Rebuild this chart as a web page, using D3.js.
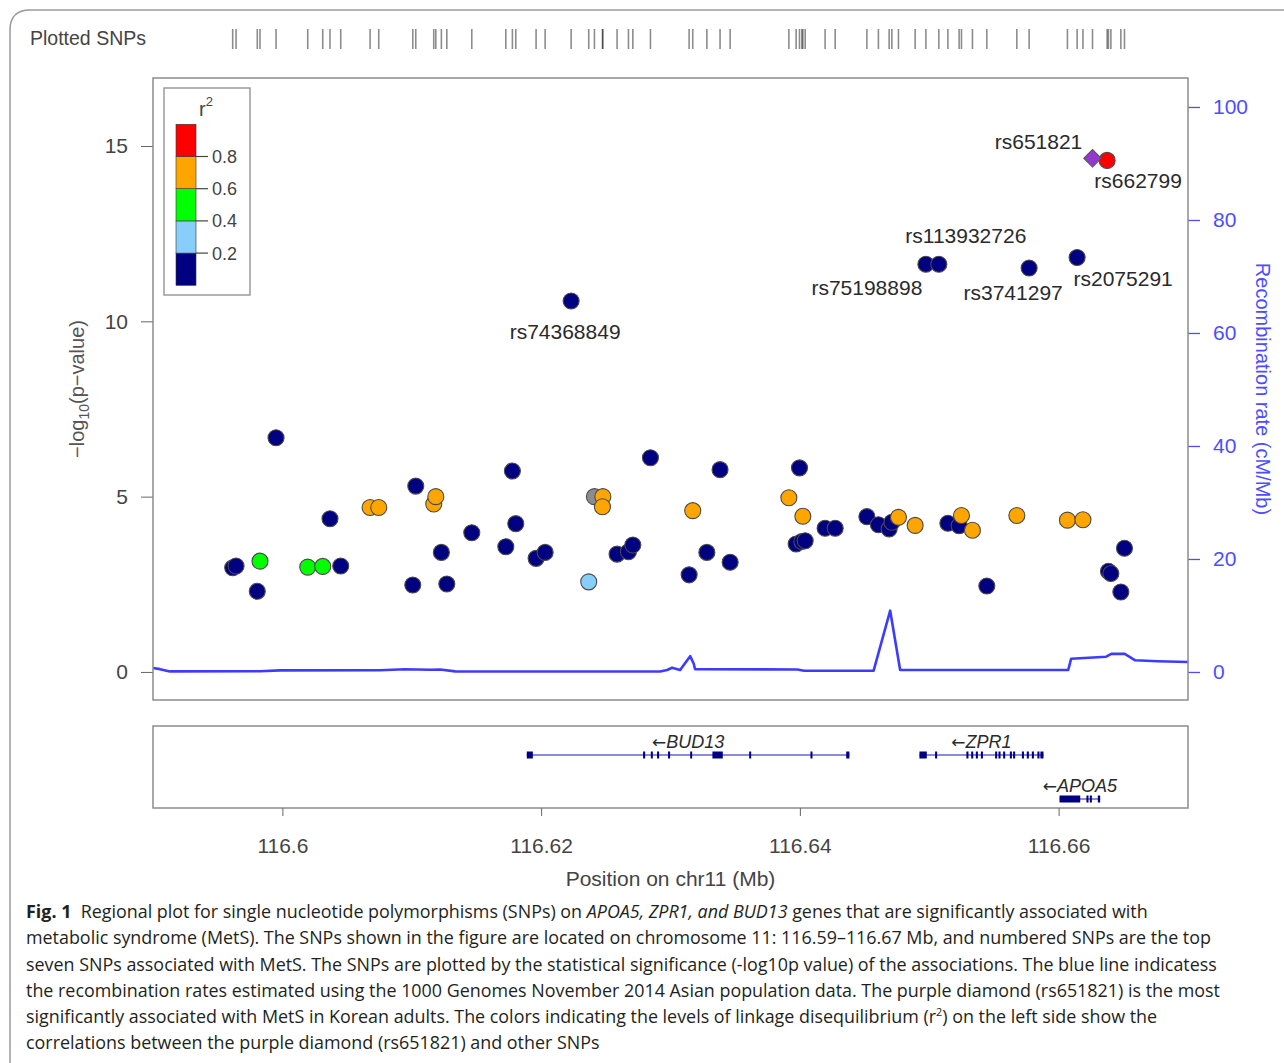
<!DOCTYPE html>
<html>
<head>
<meta charset="utf-8">
<script src="https://cdn.jsdelivr.net/npm/d3@7"></script>
<style>
body { margin: 0; background: #fff; }
svg { display: block; font-family: "Liberation Sans", Arial, sans-serif; }
</style>
</head>
<body>
<svg id="chart" width="1284" height="1063"></svg>
<script>
// SNP positions (Mb on chr11), -log10(p) and r2 with the lead SNP (null = no LD info)
var snpPos = [116.59616, 116.59642, 116.59806, 116.59827, 116.59951, 116.60196, 116.60312, 116.60368, 116.60451, 116.60678,
  116.60745, 116.61008, 116.61031, 116.61170, 116.61186, 116.61229, 116.61271, 116.61464, 116.61727, 116.61778,
  116.61804, 116.61961, 116.62031, 116.62232, 116.62368, 116.62412, 116.62477, 116.62474, 116.62587, 116.62675,
  116.62709, 116.62845, 116.63144, 116.63172, 116.63281, 116.63383, 116.63461, 116.63915, 116.63971, 116.63997,
  116.64015, 116.64041, 116.64023, 116.64195, 116.64273, 116.64518, 116.64607, 116.64690, 116.64711, 116.64762,
  116.64891, 116.64974, 116.65074, 116.65144, 116.65231, 116.65249, 116.65334, 116.65445, 116.65677, 116.65772,
  116.66068, 116.66143, 116.66188, 116.66262, 116.66375, 116.66385, 116.66404, 116.66481, 116.66509];
var snpLogP = [2.97, 3.02, 2.30, 3.16, 6.68, 2.99, 3.01, 4.37, 3.02, 4.69,
  4.69, 2.48, 5.30, 4.79, 5.00, 3.41, 2.51, 3.97, 3.57, 5.73,
  4.23, 3.24, 3.41, 10.58, 2.57, 5.00, 5.00, 4.71, 3.36, 3.43,
  3.62, 6.11, 2.77, 4.60, 3.41, 5.77, 3.13, 4.97, 3.65, 5.82,
  3.72, 3.74, 4.44, 4.10, 4.10, 4.43, 4.20, 4.08, 4.27, 4.41,
  4.18, 11.63, 11.63, 4.24, 4.17, 4.46, 4.04, 2.45, 4.46, 11.52,
  4.33, 11.82, 4.34, 14.65, 14.59, 2.87, 2.81, 2.28, 3.53];
var snpR2 = [0.1, 0.1, 0.1, 0.5, 0.1, 0.5, 0.5, 0.1, 0.1, 0.7,
  0.7, 0.1, 0.1, 0.7, 0.7, 0.1, 0.1, 0.1, 0.1, 0.1,
  0.1, 0.1, 0.1, 0.1, 0.3, null, 0.7, 0.7, 0.1, 0.1,
  0.1, 0.1, 0.1, 0.7, 0.1, 0.1, 0.1, 0.7, 0.1, 0.1,
  0.1, 0.1, 0.7, 0.1, 0.1, 0.1, 0.1, 0.1, 0.1, 0.7,
  0.7, 0.1, 0.1, 0.1, 0.1, 0.7, 0.7, 0.1, 0.7, 0.1,
  0.7, 0.1, 0.7, 1, 0.9, 0.1, 0.1, 0.1, 0.1];
// named top SNPs, by index into the arrays above
var topSnpNames = ["rs74368849", "rs75198898", "rs113932726", "rs3741297", "rs2075291", "rs651821", "rs662799"];
var topSnpIndex = [23, 51, 52, 59, 61, 63, 64];
var leadSnp = "rs651821";

// recombination rate (cM/Mb)
var recombPos = [116.5900, 116.59054, 116.59131, 116.59827, 116.59982, 116.60755, 116.60948, 116.61141, 116.61219, 116.61335,
  116.62920, 116.62974, 116.63012, 116.63074, 116.63152, 116.63179, 116.63190, 116.63979, 116.64033, 116.64570,
  116.64698, 116.64775, 116.65927, 116.66074, 116.66097, 116.66368, 116.66407, 116.66511, 116.66592, 116.66763, 116.67002];
var recombRate = [0.7, 0.5, 0.1, 0.12, 0.28, 0.3, 0.48, 0.4, 0.45, 0.1,
  0.08, 0.35, 0.75, 0.35, 2.8, 1.5, 0.48, 0.45, 0.23, 0.23,
  10.85, 0.35, 0.35, 0.35, 2.35, 2.7, 3.2, 3.2, 2.07, 1.9, 1.77];

// genes: name, start, end, exons [start, end]
var geneNames = ["BUD13", "ZPR1", "APOA5"];
var geneStart = [116.61889, 116.64924, 116.66007];
var geneEnd = [116.64383, 116.65883, 116.66321];
var geneRow = [0, 0, 1];
var geneExons = [
  [[116.61889, 116.61936], [116.62788, 116.62804], [116.62848, 116.62863], [116.62896, 116.62912], [116.62981, 116.62997],
   [116.63152, 116.63167], [116.63324, 116.63404], [116.63608, 116.63623], [116.64082, 116.64097], [116.64358, 116.64383]],
  [[116.64924, 116.64981], [116.65045, 116.65061], [116.65287, 116.65303], [116.65324, 116.65340], [116.65360, 116.65376],
   [116.65399, 116.65415], [116.65509, 116.65525], [116.65535, 116.65551], [116.65571, 116.65587], [116.65623, 116.65639],
   [116.65648, 116.65664], [116.65716, 116.65732], [116.65754, 116.65770], [116.65793, 116.65809], [116.65836, 116.65852],
   [116.65859, 116.65883]],
  [[116.66007, 116.66167], [116.66215, 116.66231], [116.66241, 116.66257], [116.66303, 116.66321]]
];

var pTicks = [0, 5, 10, 15];
var recombTicks = [0, 20, 40, 60, 80, 100];
var posTicks = [116.6, 116.62, 116.64, 116.66];
var r2Breaks = [0.2, 0.4, 0.6, 0.8];
var r2Colors = ["#000080", "#87cefa", "#00ff00", "#ffa500", "#ff0000"];

var captionLines = [
  [["b", "Fig. 1"], ["", "  Regional plot for single nucleotide polymorphisms (SNPs) on "], ["i", "APOA5, ZPR1, and BUD13"], ["", " genes that are significantly associated with"]],
  [["", "metabolic syndrome (MetS). The SNPs shown in the figure are located on chromosome 11: 116.59\u2013116.67 Mb, and numbered SNPs are the top"]],
  [["", "seven SNPs associated with MetS. The SNPs are plotted by the statistical significance (-log10p value) of the associations. The blue line indicatess"]],
  [["", "the recombination rates estimated using the 1000 Genomes November 2014 Asian population data. The purple diamond (rs651821) is the most"]],
  [["", "significantly associated with MetS in Korean adults. The colors indicating the levels of linkage disequilibrium (r"], ["sup", "2"], ["", ") on the left side show the"]],
  [["", "correlations between the purple diamond (rs651821) and other SNPs"]]
];

// ---- layout ----
var plotL = 153, plotR = 1188, plotT = 78, plotB = 700;
var geneT = 726, geneB = 808;
var blue = "#4d4dff";

var svg = d3.select("#chart");

var x = d3.scaleLinear().domain([116.59, 116.67]).range([plotL, plotR]);
var y = d3.scaleLinear().domain([-0.8, 16.94]).range([plotB, plotT]);
var yR = d3.scaleLinear().domain([-4.96, 105.13]).range([plotB, plotT]);
var r2Color = d3.scaleThreshold().domain(r2Breaks).range(r2Colors);

// figure frame
svg.append("path")
  .attr("d", "M10,1070 L10,30 Q10,10 30,10 L1290,10")
  .attr("fill", "none").attr("stroke", "#9a9a9a").attr("stroke-width", 1.5);

// plotted SNPs rug
svg.append("text").attr("x", 30).attr("y", 45)
  .attr("font-size", 19.5).attr("fill", "#444").text("Plotted SNPs");
svg.append("g").selectAll("line")
  .data(snpPos).enter().append("line")
  .attr("x1", function (d) { return x(d); }).attr("x2", function (d) { return x(d); })
  .attr("y1", 29).attr("y2", 49)
  .attr("stroke", "#000").attr("stroke-opacity", 0.45).attr("stroke-width", 1.6);

// recombination line
var recomb = recombPos.map(function (p, i) { return { pos: p, rate: recombRate[i] }; });
svg.append("path")
  .datum(recomb)
  .attr("fill", "none").attr("stroke", "#3c3cff").attr("stroke-width", 2.6)
  .attr("stroke-linejoin", "round")
  .attr("d", d3.line().x(function (d) { return x(d.pos); }).y(function (d) { return yR(d.rate); }));

// axes
var axL = svg.append("g").attr("transform", "translate(" + plotL + ",0)")
  .call(d3.axisLeft(y).tickValues(pTicks).tickSize(12).tickPadding(13));
axL.select(".domain").remove();
axL.selectAll("line").attr("stroke", "#666");
axL.selectAll("text").attr("font-size", 21).attr("fill", "#444").attr("font-family", "Liberation Sans, Arial, sans-serif");

var axR = svg.append("g").attr("transform", "translate(" + plotR + ",0)")
  .call(d3.axisRight(yR).tickValues(recombTicks).tickSize(12).tickPadding(13));
axR.select(".domain").remove();
axR.selectAll("line").attr("stroke", blue).attr("stroke-width", 1.3);
axR.selectAll("text").attr("font-size", 21).attr("fill", blue).attr("font-family", "Liberation Sans, Arial, sans-serif");

svg.append("text")
  .attr("transform", "translate(84," + ((plotT + plotB) / 2) + ") rotate(-90)")
  .attr("text-anchor", "middle").attr("font-size", 20).attr("fill", "#555")
  .call(function (t) {
    t.append("tspan").text("\u2212log");
    t.append("tspan").attr("font-size", 14).attr("dy", 5).text("10");
    t.append("tspan").attr("dy", -5).text("(p\u2212value)");
  });

svg.append("text")
  .attr("transform", "translate(1256," + ((plotT + plotB) / 2) + ") rotate(90)")
  .attr("text-anchor", "middle").attr("font-size", 20).attr("fill", blue)
  .text("Recombination rate (cM/Mb)");

// plot border
svg.append("rect").attr("x", plotL).attr("y", plotT)
  .attr("width", plotR - plotL).attr("height", plotB - plotT)
  .attr("fill", "none").attr("stroke", "#8c8c8c").attr("stroke-width", 1.5);

// SNP points
var snps = snpPos.map(function (p, i) {
  var id = topSnpIndex.indexOf(i) >= 0 ? topSnpNames[topSnpIndex.indexOf(i)] : null;
  return { pos: p, logp: snpLogP[i], r2: snpR2[i], id: id };
});
var others = snps.filter(function (d) { return d.id !== leadSnp; });
var lead = snps.filter(function (d) { return d.id === leadSnp; });

svg.append("g").selectAll("circle")
  .data(others).enter().append("circle")
  .attr("cx", function (d) { return x(d.pos); })
  .attr("cy", function (d) { return y(d.logp); })
  .attr("r", 8)
  .attr("fill", function (d) { return d.r2 === null ? "#8c8c8c" : r2Color(d.r2); })
  .attr("stroke", "#4a4a4a").attr("stroke-width", 1.1);

svg.append("g").selectAll("path")
  .data(lead).enter().append("path")
  .attr("transform", function (d) { return "translate(" + x(d.pos) + "," + y(d.logp) + ") rotate(45)"; })
  .attr("d", d3.symbol(d3.symbolSquare, 155))
  .attr("fill", "#9437cf").attr("stroke", "#555").attr("stroke-width", 1);

// SNP labels (offsets from their point)
var labelOffset = {
  rs74368849: [-6, 38], rs75198898: [-59, 31], rs113932726: [27, -21], rs3741297: [-16, 32],
  rs2075291: [46, 28], rs651821: [-54, -9], rs662799: [31, 28]
};
svg.append("g").selectAll("text")
  .data(snps.filter(function (d) { return d.id; })).enter().append("text")
  .attr("x", function (d) { return x(d.pos) + labelOffset[d.id][0]; })
  .attr("y", function (d) { return y(d.logp) + labelOffset[d.id][1]; })
  .attr("text-anchor", "middle").attr("font-size", 21).attr("fill", "#2a2a2a")
  .text(function (d) { return d.id; });

// r2 legend
var leg = svg.append("g");
leg.append("rect").attr("x", 164).attr("y", 88).attr("width", 86).attr("height", 207)
  .attr("fill", "#fff").attr("stroke", "#8c8c8c").attr("stroke-width", 1.3);
var bandY = d3.scaleLinear().domain([1, 0]).range([124.3, 285.3]);
var bands = [0, 0.2, 0.4, 0.6, 0.8];
leg.selectAll("rect.band")
  .data(bands).enter().append("rect").attr("class", "band")
  .attr("x", 176).attr("width", 20)
  .attr("y", function (d) { return bandY(d + 0.2); })
  .attr("height", function (d) { return bandY(d) - bandY(d + 0.2); })
  .attr("fill", function (d) { return r2Color(d + 0.1); })
  .attr("stroke", "#333").attr("stroke-width", 0.6);
leg.selectAll("line.tick")
  .data(r2Breaks).enter().append("line").attr("class", "tick")
  .attr("x1", 196).attr("x2", 208)
  .attr("y1", function (d) { return bandY(d); }).attr("y2", function (d) { return bandY(d); })
  .attr("stroke", "#444").attr("stroke-width", 1.2);
leg.selectAll("text.lab")
  .data(r2Breaks).enter().append("text").attr("class", "lab")
  .attr("x", 212).attr("y", function (d) { return bandY(d); }).attr("dy", "0.36em")
  .attr("font-size", 18).attr("fill", "#444")
  .text(function (d) { return d.toFixed(1); });
leg.append("text").attr("x", 199).attr("y", 116).attr("font-size", 20).attr("fill", "#444")
  .call(function (t) {
    t.append("tspan").text("r");
    t.append("tspan").attr("font-size", 13).attr("dy", -10).text("2");
  });

// gene panel
svg.append("rect").attr("x", plotL).attr("y", geneT)
  .attr("width", plotR - plotL).attr("height", geneB - geneT)
  .attr("fill", "none").attr("stroke", "#8c8c8c").attr("stroke-width", 1.5);

var rowY = [755, 799];
var genes = geneNames.map(function (n, i) {
  return { name: n, start: geneStart[i], end: geneEnd[i], row: geneRow[i], exons: geneExons[i] };
});
var gg = svg.append("g").selectAll("g")
  .data(genes).enter().append("g");
gg.append("line")
  .attr("x1", function (d) { return x(d.start); }).attr("x2", function (d) { return x(d.end); })
  .attr("y1", function (d) { return rowY[d.row]; }).attr("y2", function (d) { return rowY[d.row]; })
  .attr("stroke", "#1a1aa6").attr("stroke-width", 1.2);
gg.each(function (d) {
  d3.select(this).selectAll("rect")
    .data(d.exons).enter().append("rect")
    .attr("x", function (e) { return x(e[0]); })
    .attr("width", function (e) { return Math.max(2, x(e[1]) - x(e[0])); })
    .attr("y", rowY[d.row] - 3.5).attr("height", 7)
    .attr("fill", "#000080");
});
gg.append("text")
  .attr("x", function (d) { return (x(d.start) + x(d.end)) / 2; })
  .attr("y", function (d) { return rowY[d.row] - 7; })
  .attr("text-anchor", "middle").attr("font-size", 18).attr("fill", "#2a2a2a")
  .call(function (t) {
    t.append("tspan").attr("font-family", "'DejaVu Sans', sans-serif").attr("font-size", 17).text("\u2190");
    t.append("tspan").attr("font-style", "italic").text(function (d) { return d.name; });
  });

var axB = svg.append("g").attr("transform", "translate(0," + geneB + ")")
  .call(d3.axisBottom(x).tickValues(posTicks).tickSize(8).tickPadding(22)
    .tickFormat(function (d) { return String(d); }));
axB.select(".domain").remove();
axB.selectAll("line").attr("stroke", "#666");
axB.selectAll("text").attr("font-size", 21).attr("fill", "#444").attr("font-family", "Liberation Sans, Arial, sans-serif");

svg.append("text").attr("x", (plotL + plotR) / 2).attr("y", 886)
  .attr("text-anchor", "middle").attr("font-size", 21).attr("fill", "#444")
  .text("Position on chr11 (Mb)");

// caption
var cap = svg.append("g").attr("font-family", "'Open Sans', 'Noto Sans', sans-serif")
  .attr("font-size", 18).attr("fill", "#231f20");
var capNodes = [];
captionLines.forEach(function (line, i) {
  var t = cap.append("text").attr("x", 0).attr("y", 918 + i * 26.3).attr("xml:space", "preserve");
  line.forEach(function (part) {
    var s = t.append("tspan").text(part[1]);
    if (part[0] === "b") s.attr("font-weight", "bold");
    if (part[0] === "i") s.attr("font-style", "italic");
    if (part[0] === "sup") s.attr("font-size", 11).attr("dy", -7);
    if (i === 4 && part[0] === "" && part[1].charAt(0) === ")") s.attr("dy", 7);
  });
  capNodes.push(t.node());
});
// squeeze horizontally so line 5 spans like the original narrow typeface
var sx = 1132 / capNodes[4].getComputedTextLength();
cap.attr("transform", "translate(26,0) scale(" + sx + ",1)");
</script>
</body>
</html>
